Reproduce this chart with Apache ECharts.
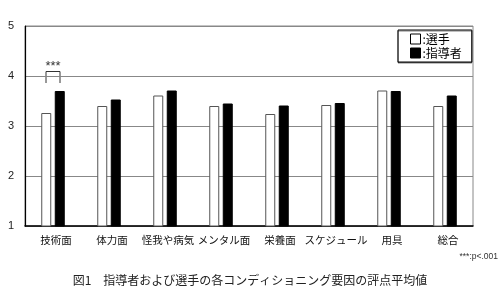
<!DOCTYPE html>
<html>
<head>
<meta charset="utf-8">
<script src="https://cdn.jsdelivr.net/npm/echarts@6/dist/echarts.min.js"></script>
<style>
html,body{margin:0;padding:0;background:#fff;}
#c{width:500px;height:300px;}
</style>
</head>
<body>
<div id="c"></div>
<script>
const categories = ['技術面','体力面','怪我や病気','メンタル面','栄養面','スケジュール','用具','総合'];
const players = [3.26, 3.40, 3.61, 3.40, 3.24, 3.42, 3.71, 3.40];
const coaches = [3.70, 3.53, 3.71, 3.45, 3.41, 3.46, 3.70, 3.61];
const yTicks = [1, 2, 3, 4, 5];
const seriesNames = ['選手', '指導者'];
const sigCategoryIndex = 0;
const sigLabel = '***';
const noteText = '***:p<.001';
const titleText = '図1　指導者および選手の各コンディショニング要因の評点平均値';

const font = '"Noto Sans CJK JP", "Noto Sans", sans-serif';
const chart = echarts.init(document.getElementById('c'), null, {renderer: 'canvas'});

const option = {
  animation: false,
  backgroundColor: '#fff',
  textStyle: {fontFamily: font},
  grid: {left: 25, right: 27, top: 26, bottom: 74, show: true, borderColor: '#888', borderWidth: 1, backgroundColor: 'transparent'},
  legend: {
    orient: 'vertical',
    left: 398, top: 30,
    padding: [3, 10, 3, 12],
    itemWidth: 10, itemHeight: 10, itemGap: 2,
    borderColor: '#000', borderWidth: 1,
    backgroundColor: '#fff',
    shadowColor: 'rgba(0,0,0,0.5)', shadowOffsetY: 1, shadowOffsetX: 0, shadowBlur: 0,
    formatter: name => ':' + name,
    textStyle: {fontSize: 12, color: '#000', fontFamily: font, padding: [0,0,0,-3]},
    data: [
      {name: seriesNames[0], icon: 'rect', itemStyle: {color: '#fff', borderColor: '#000', borderWidth: 1}},
      {name: seriesNames[1], icon: 'rect', itemStyle: {color: '#000', borderColor: '#000', borderWidth: 1}}
    ]
  },
  xAxis: {
    type: 'category',
    data: categories,
    axisLine: {show: true, lineStyle: {color: '#000', width: 1.5}},
    axisTick: {show: false},
    axisLabel: {fontSize: 10.5, color: '#111', margin: 9, interval: 0, padding: [0, 0, 0, 6]},
    splitLine: {show: false}
  },
  yAxis: {
    type: 'value',
    min: yTicks[0], max: yTicks[yTicks.length - 1], interval: 1,
    axisLine: {show: true, lineStyle: {color: '#000', width: 1.2}},
    axisTick: {show: true, length: 0},
    axisLabel: {fontSize: 11, color: '#222', margin: 11, fontFamily: 'Liberation Sans, Arial, sans-serif'},
    splitLine: {show: true, lineStyle: {color: '#888', width: 1}}
  },
  series: [
    {
      name: seriesNames[0], type: 'bar', data: players,
      barWidth: 10, barGap: '35%',
      itemStyle: {color: '#fff', borderColor: '#555', borderWidth: 1}
    },
    {
      name: seriesNames[1], type: 'bar', data: coaches,
      barWidth: 10,
      itemStyle: {color: '#000', borderColor: '#000', borderWidth: 1}
    }
  ],
  graphic: [
    {type: 'text', right: 2, top: 252, style: {text: noteText, fontSize: 8.5, fill: '#333', fontFamily: 'Liberation Sans, Arial, sans-serif'}},
    {type: 'text', left: 'center', top: 274, style: {text: titleText, fontSize: 12, fill: '#222', fontFamily: font}}
  ]
};
chart.setOption(option);

// significance bracket positioned through the chart's own scales
const cx = chart.convertToPixel({xAxisIndex: 0}, sigCategoryIndex);
const yTop = chart.convertToPixel({yAxisIndex: 0}, 4.09);
const yBot = chart.convertToPixel({yAxisIndex: 0}, 3.86);
const half = 7;
chart.setOption({
  graphic: option.graphic.concat([
    {type: 'polyline', shape: {points: [[cx - half, yBot], [cx - half, yTop], [cx + half, yTop], [cx + half, yBot]]}, style: {stroke: '#333', lineWidth: 1, fill: null}},
    {type: 'text', x: cx, y: yTop + 1, style: {text: sigLabel, fontSize: 13, fill: '#333', align: 'center', verticalAlign: 'bottom', fontFamily: 'Liberation Sans, Arial, sans-serif'}}
  ])
});
</script>
</body>
</html>
